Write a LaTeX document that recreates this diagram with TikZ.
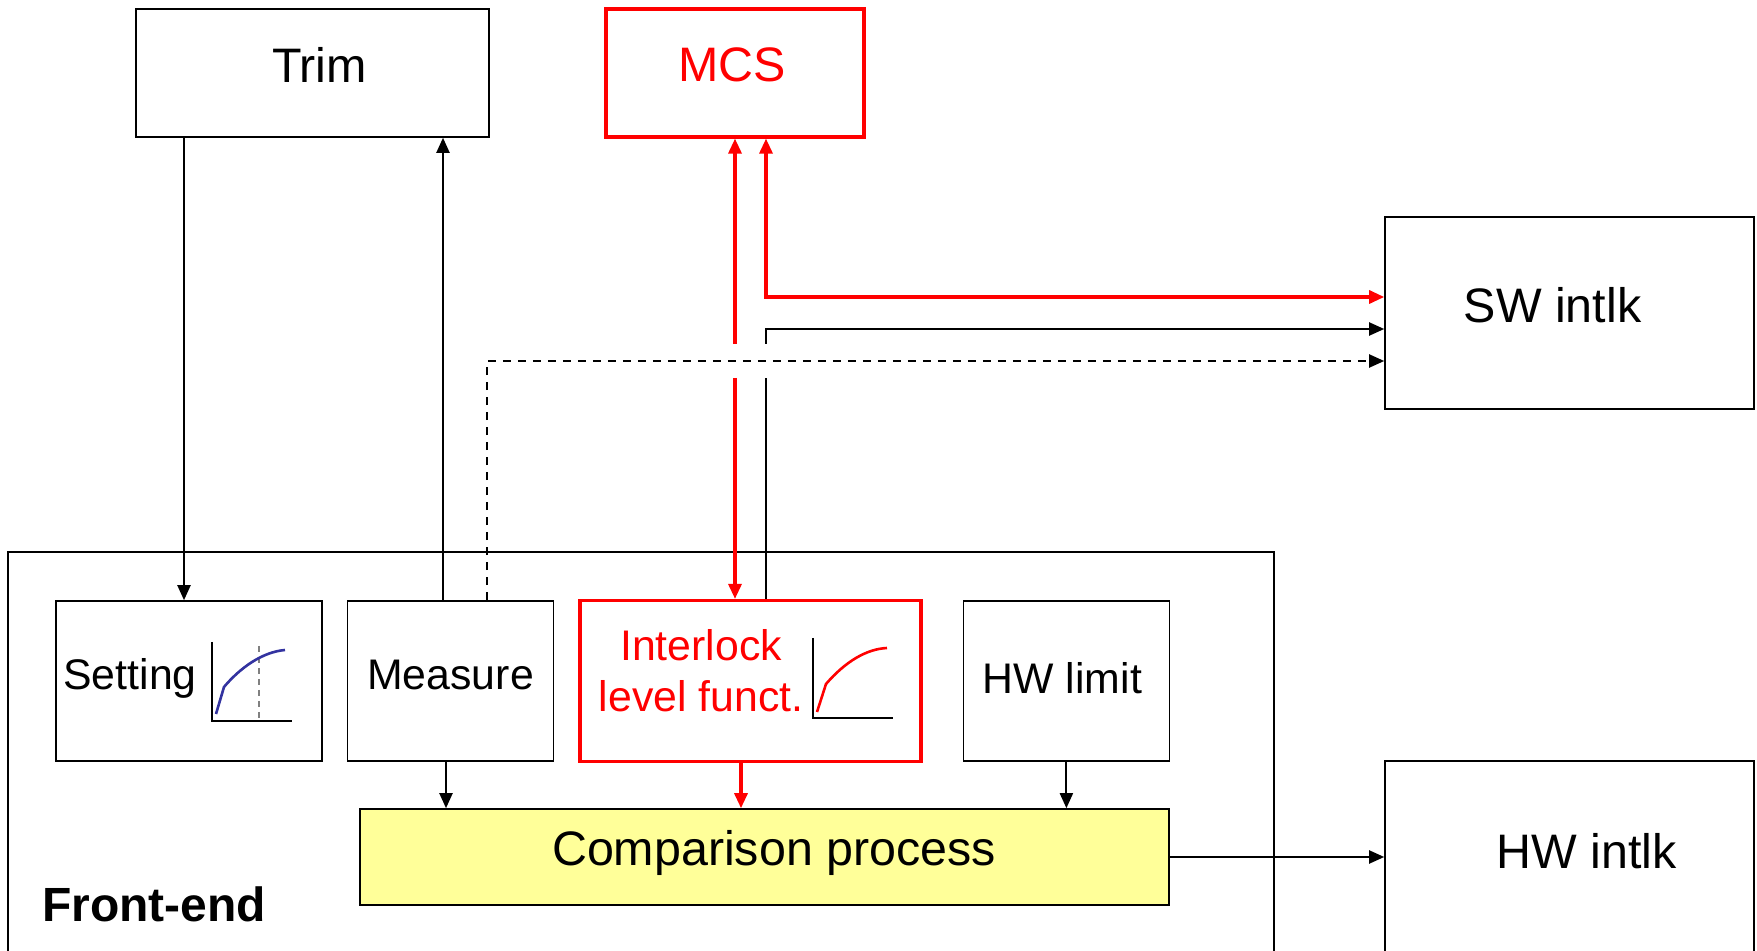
\documentclass[tikz,border=0pt]{standalone}
\usepackage{fontspec}
\setmainfont{Liberation Sans}
\usepackage{tikz}
\usetikzlibrary{arrows.meta, positioning, calc}

\definecolor{cmpyellow}{RGB}{255,255,153}
\definecolor{curveblue}{RGB}{51,51,160}

\begin{document}
\begin{tikzpicture}[
    x=0.5pt, y=-0.5pt,
    >={Triangle[length=7.5pt, width=6.5pt]},
    box/.style={rectangle, draw=black, line width=0.8pt, fill=white, inner sep=0pt},
    smalltext/.style={font=\fontsize{21.4}{25.5}\selectfont},
    bigtext/.style={font=\fontsize{24.2}{29}\selectfont},
    redbox/.style={draw=red, line width=1.6pt, text=red},
    arrow/.style={->, line width=1pt, draw=black},
    redarrow/.style={->, line width=1.6pt, draw=red},
    line/.style={line width=1pt, draw=black}
]
\clip (0,0) rectangle (1757,951);

% Frame
\node (frontend) [box, minimum width=633pt, minimum height=204.5pt] at (641,756.5) {};
\node (fetxt) [anchor=west, font=\bfseries\fontsize{24}{29}\selectfont] at (35,904) {Front-end};

% Nodes
\node (trim) [box, minimum width=176.5pt, minimum height=64pt,
    label={[bigtext, xshift=3.5pt, yshift=4pt]center:Trim}] at (312.5,73) {};
\node (mcs) [box, redbox, minimum width=129pt, minimum height=64pt,
    label={[bigtext, text=red, xshift=-1.5pt, yshift=4pt]center:MCS}] at (735,73) {};
\node (swintlk) [box, minimum width=184.5pt, minimum height=96pt,
    label={[bigtext, xshift=-8.5pt, yshift=4pt]center:SW intlk}] at (1569.5,313) {};
\node (hwintlk) [box, minimum width=184.5pt, minimum height=100pt,
    label={[bigtext, xshift=8.5pt, yshift=5pt]center:HW intlk}] at (1569.5,861) {};

\node (setting) [box, minimum width=133pt, minimum height=80pt] at (189,681) {};
\node (measure) [box, right=12pt of setting, minimum width=103pt, minimum height=80pt,
    label={[smalltext, yshift=3pt]center:Measure}] {};
\node (intlk) [box, redbox, right=12pt of measure, minimum width=170.5pt, minimum height=80.5pt] {};
\node (hwlimit) [box, right=20pt of intlk, minimum width=103pt, minimum height=80pt,
    label={[smalltext, xshift=-2pt, yshift=1.5pt]center:HW limit}] {};
\node (cmp) [box, fill=cmpyellow, minimum width=404.5pt, minimum height=48pt,
    label={[bigtext, xshift=4.75pt, yshift=2pt]center:Comparison process}] at (764.5,857) {};

\node (settxt) [smalltext] at (130,678) {Setting};
\node (intlktxt) [smalltext, text=red, align=center] at (701,670.5) {Interlock\\level funct.};

% Curves
\draw [line width=0.8pt] (212,642) -- (212,721) -- (292,721);
\draw [gray, line width=0.8pt, dash pattern=on 3pt off 2.5pt] (259,646) -- (259,721);
\draw [curveblue, line width=1.3pt] (216,714) -- (224,687) .. controls (240,668) and (262,652) .. (285,650);
\draw [line width=0.8pt] (813,638) -- (813,718) -- (893,718);
\draw [red, line width=1.3pt] (817,712) -- (826,684) .. controls (845,662) and (866,649) .. (887,648);

% Levels
\coordinate (xtrim) at (184,0);
\coordinate (xmeas) at (443,0);
\coordinate (xdash) at (487,0);
\coordinate (xmcs) at (766,0);
\coordinate (xmcmp) at (446,0);
\coordinate (xicmp) at (741,0);
\coordinate (ysw) at (0,297);
\coordinate (yblk) at (0,329);
\coordinate (ydash) at (0,361);

% Arrows
\draw [arrow] (trim.south -| xtrim) -- (setting.north -| xtrim);
\draw [arrow] (measure.north -| xmeas) -- (trim.south -| xmeas);
\draw [arrow, dash pattern=on 4pt off 3.5pt] (measure.north -| xdash) |- (swintlk.west |- ydash);

\draw [redarrow] ($(mcs.south |- ydash)+(0,-17)$) -- (mcs.south);
\draw [redarrow] ($(mcs.south |- ydash)+(0,17)$) -- (intlk.north -| mcs.south);
\draw [redarrow, <->] (mcs.south -| xmcs) |- (swintlk.west |- ysw);

\draw [line] (intlk.north -| xmcs) -- ($(xmcs |- ydash)+(0,17)$);
\draw [arrow] ($(xmcs |- ydash)+(0,-17)$) |- (swintlk.west |- yblk);

\draw [arrow] (measure.south -| xmcmp) -- (cmp.north -| xmcmp);
\draw [redarrow] (intlk.south -| xicmp) -- (cmp.north -| xicmp);
\draw [arrow] (hwlimit.south) -- (cmp.north -| hwlimit.south);
\draw [arrow] (cmp.east) -- (hwintlk.west |- cmp.east);

\end{tikzpicture}
\end{document}
